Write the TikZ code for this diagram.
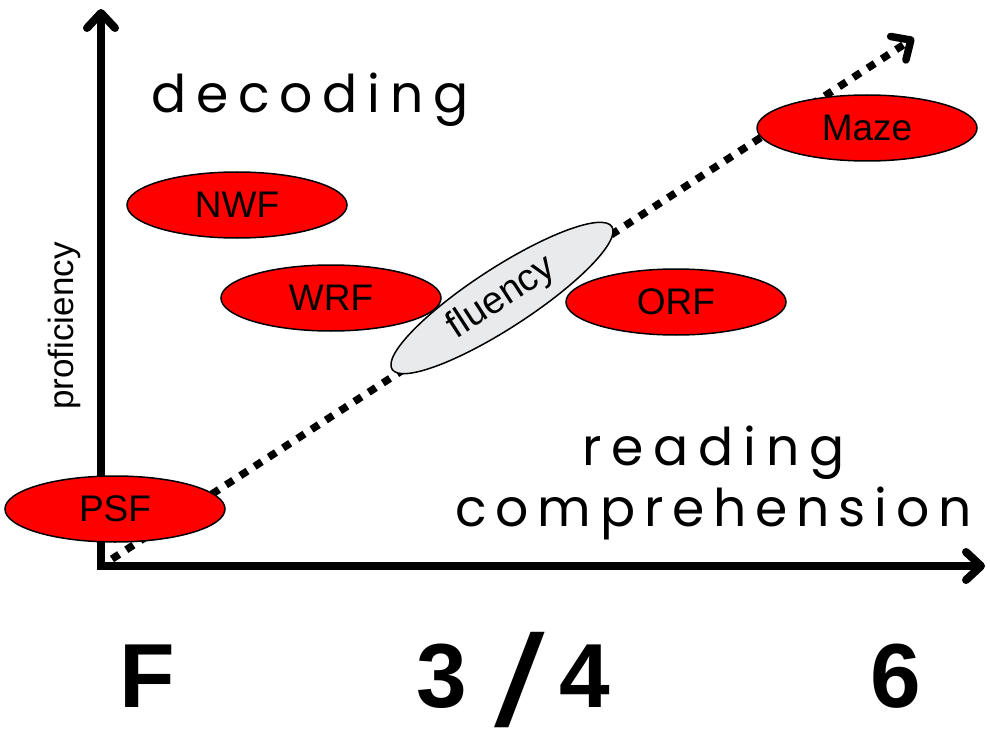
\documentclass[tikz,border=0pt]{standalone}
\usepackage{fontspec}
\usepackage{graphicx}
\setmainfont{Liberation Sans}
\newfontfamily\trackfont[LetterSpace=19]{Poppins}
\newfontfamily\tighttrackfont[LetterSpace=17]{Poppins}
\usetikzlibrary{arrows.meta,shapes.geometric}

\definecolor{ovalred}{RGB}{255,0,0}
\definecolor{ovalgray}{RGB}{232,234,235}

\begin{document}
\begin{tikzpicture}[x=1pt,y=-1pt,
  barb/.tip={Straight Barb[length=15pt,width=28pt,round]},
  axis/.style={line width=8pt, barb-barb},
  trend/.style={line width=7.5pt, dash pattern=on 8.5pt off 8.5pt, -barb},
  oval/.style={ellipse, draw=black, line width=1.5pt, fill=ovalred,
    minimum width=220pt, minimum height=66pt, inner sep=0pt,
    font=\fontsize{37}{40}\selectfont},
  spaced/.style={font=\trackfont\fontsize{52}{60}\selectfont, inner sep=0pt},
  grade/.style={font=\bfseries\fontsize{91}{100}\selectfont, inner sep=0pt}]

% canvas
\fill[white] (0,0) rectangle (990,730);
\useasboundingbox (0,0) rectangle (990,730);

% axes
\coordinate (ytop) at (101,9);
\coordinate (origin) at (101,566);
\coordinate (xend) at (985,566);
\draw[axis] (ytop) -- (origin) -- (xend);

% dotted trend line
\coordinate (ts) at (112,559);
\coordinate (te) at (914,38);
\draw[trend] (ts) -- (te);

% measures
\node[oval] (nwf) at (237,205) {NWF};
\node[oval] (wrf) at (331,298) {WRF};
\node[oval] (orf) at (676,302) {ORF};
\node[oval] (maze) at (867,128) {Maze};
\node[oval] (psf) at (115,509) {PSF};
\node[oval, fill=ovalgray, rotate=33, minimum width=262pt, minimum height=60pt,
  font=\fontsize{38}{40}\selectfont] (flu) at (502,298) {fluency};

% axis and area labels
\node[rotate=90, font=\fontsize{35}{40}\selectfont] (prof) at (64,326) {proficiency};
\node[spaced, anchor=base west] (dec) at (151,113) {decoding};
\node[spaced, anchor=base west] (rd) at (582,465) {reading};
\node[spaced, anchor=base west, font=\tighttrackfont\fontsize{52}{60}\selectfont]
  (comp) at (455,526) {comprehension};

% grade levels
\node[grade, anchor=base] (gF) at (147,707) {F};
\node[grade, anchor=base west] (g34) at (416,707)
  {3\hspace{28pt}\raisebox{-19pt}{\scalebox{1.4}[1]{\mdseries\fontsize{130}{130}\selectfont /}}\hspace{14pt}4};
\node[grade, anchor=base] (g6) at (896,707) {6};
\end{tikzpicture}
\end{document}
